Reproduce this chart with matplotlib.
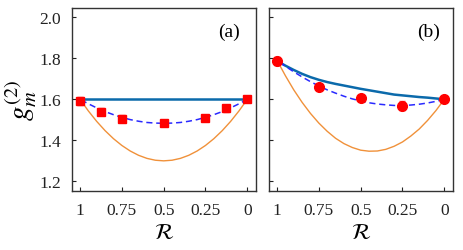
import matplotlib

matplotlib.use("Agg")
import matplotlib.pyplot as plt

plt.rcParams["font.family"] = ["Liberation Serif", "DejaVu Serif"]
plt.rcParams["mathtext.fontset"] = "stix"

# theory curves at R = 0, 0.05, ..., 1
r_grid = [0.0, 0.05, 0.1, 0.15, 0.2, 0.25, 0.3, 0.35, 0.4, 0.45, 0.5,
          0.55, 0.6, 0.65, 0.7, 0.75, 0.8, 0.85, 0.9, 0.95, 1.0]

a_solid = [1.6] * 21
a_dashed = [1.600, 1.578, 1.558, 1.540, 1.525, 1.512, 1.501, 1.493, 1.487, 1.484, 1.483,
            1.484, 1.487, 1.493, 1.501, 1.512, 1.525, 1.540, 1.558, 1.578, 1.600]
a_orange = [1.600, 1.543, 1.492, 1.447, 1.408, 1.375, 1.348, 1.327, 1.312, 1.303, 1.300,
            1.303, 1.312, 1.327, 1.348, 1.375, 1.408, 1.447, 1.492, 1.543, 1.600]

b_solid = [1.600, 1.604, 1.608, 1.611, 1.615, 1.619, 1.623, 1.630, 1.637, 1.644, 1.651,
           1.659, 1.667, 1.675, 1.684, 1.695, 1.708, 1.724, 1.743, 1.764, 1.787]
b_dashed = [1.600, 1.590, 1.582, 1.576, 1.572, 1.570, 1.570, 1.573, 1.577, 1.583, 1.592,
            1.602, 1.615, 1.630, 1.646, 1.665, 1.686, 1.709, 1.734, 1.761, 1.790]
b_orange = [1.600, 1.545, 1.497, 1.455, 1.421, 1.392, 1.371, 1.356, 1.348, 1.347, 1.352,
            1.365, 1.384, 1.410, 1.444, 1.484, 1.531, 1.585, 1.646, 1.715, 1.790]

# measured points
a_r = [1.0, 0.873, 0.75, 0.5, 0.25, 0.127, 0.0]
a_g = [1.593, 1.540, 1.505, 1.486, 1.509, 1.556, 1.603]
a_err = [0.020, 0.018, 0.018, 0.012, 0.010, 0.018, 0.010]

b_r = [1.0, 0.75, 0.5, 0.25, 0.0]
b_g = [1.787, 1.660, 1.608, 1.569, 1.601]
b_err = [0.018, 0.012, 0.015, 0.022, 0.015]

x_ticks = [1, 0.75, 0.5, 0.25, 0]
x_ticklabels = ["1", "0.75", "0.5", "0.25", "0"]
y_ticks = [1.2, 1.4, 1.6, 1.8, 2.0]

fig = plt.figure(figsize=(4.64, 2.51), dpi=100)
ax_a = fig.add_axes([72 / 464, 1 - 192 / 251, 184 / 464, 183 / 251])
ax_b = fig.add_axes([269 / 464, 1 - 192 / 251, 184 / 464, 183 / 251])

panels = [
    (ax_a, a_solid, a_dashed, a_orange, a_r, a_g, a_err, "s", 6, "(a)", 0.915),
    (ax_b, b_solid, b_dashed, b_orange, b_r, b_g, b_err, "o", 7, "(b)", 0.93),
]

for ax, solid, dashed, orange, pr, pg, perr, mk, ms, tag, tag_x in panels:
    ax.plot(r_grid, orange, color="#f0913a", lw=1.0, zorder=2)
    ax.plot(r_grid, solid, color="#0b6aab", lw=1.8, zorder=3)
    ax.plot(r_grid, dashed, color="#2a2aff", lw=1.1, ls=(0, (4, 2.5)), zorder=4)
    ax.errorbar(pr, pg, yerr=perr, fmt=mk, ms=ms, color="#ff0000",
                ecolor="#ff5050", elinewidth=1.2, capsize=2.5, capthick=1.0, zorder=5)

    ax.set_xlim(1.048, -0.052)
    ax.set_ylim(1.153, 2.045)
    ax.set_xticks(x_ticks)
    ax.set_xticklabels(x_ticklabels)
    ax.set_yticks(y_ticks)
    ax.tick_params(direction="in", length=3, width=0.8, labelsize=12.5, colors="#222222",
                   pad=8)
    for spine in ax.spines.values():
        spine.set_color("#333333")
        spine.set_linewidth(1.0)
    ax.set_xlabel(r"$\mathcal{R}$", fontsize=16, labelpad=4)
    ax.text(tag_x, 0.875, tag, transform=ax.transAxes, ha="right", va="center",
            fontsize=14)

ax_a.set_ylabel(r"$g_m^{(2)}$", fontsize=21, labelpad=0)
ax_b.set_yticklabels([])

fig.savefig("out.png", dpi=100)
plt.close(fig)
